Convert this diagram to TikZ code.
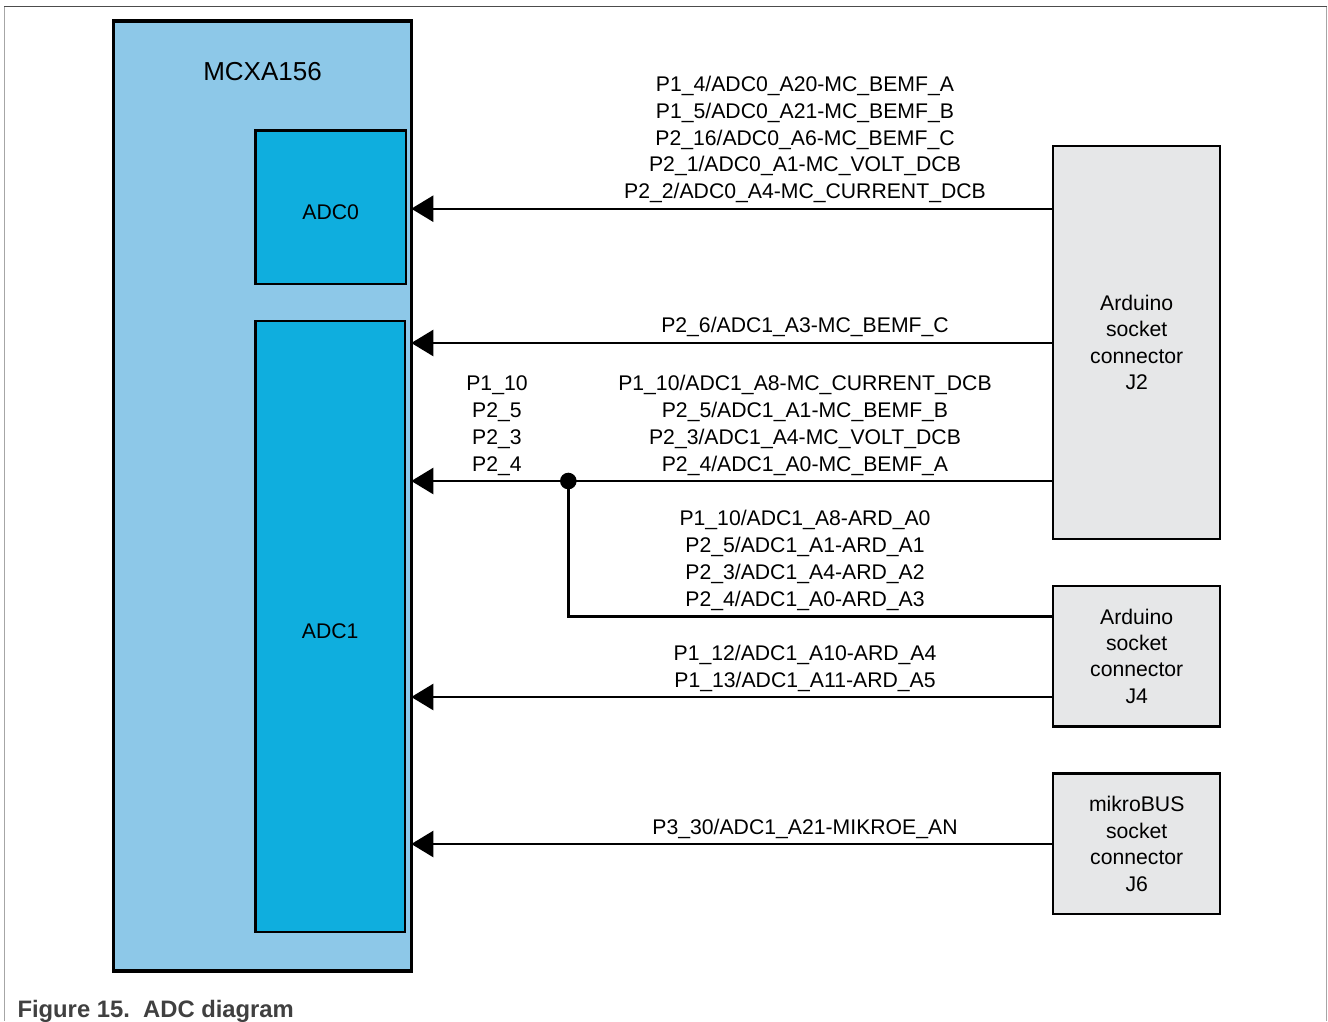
\documentclass[tikz,border=0pt]{standalone}
\usepackage{fontspec}
\setmainfont{Liberation Sans}
\usetikzlibrary{arrows.meta}
\definecolor{mcublue}{RGB}{141,200,232}
\definecolor{adcblue}{RGB}{15,174,222}
\definecolor{conngray}{RGB}{230,231,232}
\definecolor{capgray}{RGB}{64,64,64}
\tikzset{
  block/.style={draw,line width=2.2pt,align=center,inner sep=0pt,
    font=\fontsize{21.2}{26.4}\selectfont},
  mcu/.style={block,fill=mcublue,line width=3.6pt,outer sep=0pt},
  adc/.style={block,fill=adcblue,text height=24pt,text depth=0pt},
  conn/.style={block,fill=conngray,minimum width=166.7pt},
  sig/.style={line width=2.4pt,-{Triangle[length=22pt,width=26pt]}},
  wire/.style={line width=2.4pt},
  lbl/.style={align=center,inner sep=0pt,font=\fontsize{21.2}{26.8}\selectfont}
}
\begin{document}
\begin{tikzpicture}[x=1pt,y=-1pt]
\useasboundingbox (0,0) rectangle (1328,1021);
% page frame
\draw[line width=1.2pt,gray!70] (4.5,1021) -- (4.5,6.3);
\draw[line width=1.2pt,gray!70] (1326.5,1021) -- (1326.5,6.3);
\draw[line width=1.2pt,black!70] (4,6.3) -- (1327,6.3);
% chip and converters
\node[mcu,minimum width=298pt,minimum height=950pt] (mcu) at (262.3,495.9) {};
\node[font=\fontsize{26}{30}\selectfont,anchor=base] (mcuname) at (262.5,80) {MCXA156};
\node[adc,minimum width=150.5pt,minimum height=153.5pt] (adc0) at (330.75,207.25) {ADC0};
\node[adc,minimum width=149.5pt,minimum height=611pt] (adc1) at (330.25,626.5) {ADC1};
% connectors
\node[conn,minimum height=392.5pt] (j2) at (1136.7,342.5) {Arduino\\socket\\connector\\J2};
\node[conn,minimum height=140.7pt] (j4) at (1136.7,656.2) {Arduino\\socket\\connector\\J4};
\node[conn,minimum height=140.8pt] (j6) at (1136.7,843.9) {mikroBUS\\socket\\connector\\J6};
% signals
\coordinate (tap) at (568.3,481);
\draw[sig] (j2.west |- 0,208.7) -- (mcu.east |- 0,208.7);
\draw[sig] (j2.west |- 0,343) -- (mcu.east |- 0,343);
\draw[sig] (j2.west |- tap) -- (mcu.east |- tap);
\fill (tap) circle (8.3pt);
\draw[wire] (tap) |- (j4.west |- 0,616.3);
\draw[sig] (j4.west |- 0,697) -- (mcu.east |- 0,697);
\draw[sig] (j6.west |- 0,844) -- (mcu.east |- 0,844);
% signal names
\node[lbl] (lbladc0) at (805,139.5) {P1\_4/ADC0\_A20-MC\_BEMF\_A\\P1\_5/ADC0\_A21-MC\_BEMF\_B\\P2\_16/ADC0\_A6-MC\_BEMF\_C\\P2\_1/ADC0\_A1-MC\_VOLT\_DCB\\P2\_2/ADC0\_A4-MC\_CURRENT\_DCB};
\node[lbl] (lblbemfc) at (805,326.5) {P2\_6/ADC1\_A3-MC\_BEMF\_C};
\node[lbl] (lblmc) at (805,425.5) {P1\_10/ADC1\_A8-MC\_CURRENT\_DCB\\P2\_5/ADC1\_A1-MC\_BEMF\_B\\P2\_3/ADC1\_A4-MC\_VOLT\_DCB\\P2\_4/ADC1\_A0-MC\_BEMF\_A};
\node[lbl] (lblpins) at (497,425.5) {P1\_10\\P2\_5\\P2\_3\\P2\_4};
\node[lbl] (lblard) at (805,560.5) {P1\_10/ADC1\_A8-ARD\_A0\\P2\_5/ADC1\_A1-ARD\_A1\\P2\_3/ADC1\_A4-ARD\_A2\\P2\_4/ADC1\_A0-ARD\_A3};
\node[lbl] (lblardb) at (805,668.5) {P1\_12/ADC1\_A10-ARD\_A4\\P1\_13/ADC1\_A11-ARD\_A5};
\node[lbl] (lblmikro) at (805,828.5) {P3\_30/ADC1\_A21-MIKROE\_AN};
% caption
\node[anchor=base west,inner sep=0pt,text=capgray,font=\bfseries\fontsize{23.8}{28}\selectfont] (caption) at (17.3,1017.5) {Figure 15.\ \ ADC diagram};
\end{tikzpicture}
\end{document}
